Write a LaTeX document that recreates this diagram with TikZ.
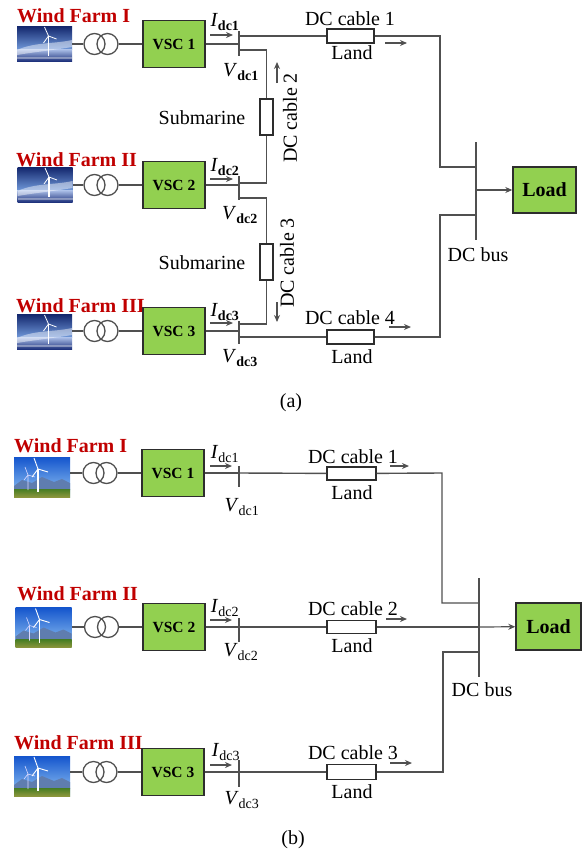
\documentclass[tikz,border=0pt]{standalone}
\usepackage{fontspec}
\setmainfont{Liberation Serif}
\usetikzlibrary{arrows.meta}
\definecolor{vscgreen}{RGB}{146,208,80}
\definecolor{farmred}{RGB}{192,0,0}
\definecolor{wirecol}{RGB}{80,80,80}
\definecolor{boxdark}{RGB}{45,45,45}
\definecolor{sa1}{RGB}{20,40,110}
\definecolor{sa2}{RGB}{110,150,215}
\definecolor{sa3}{RGB}{175,195,235}
\definecolor{sa4}{RGB}{25,45,120}
\definecolor{lb1}{RGB}{20,85,205}
\definecolor{lb2}{RGB}{150,200,245}
\definecolor{lb3}{RGB}{95,125,175}
\definecolor{gr1}{RGB}{70,125,35}
\definecolor{gr2}{RGB}{140,150,60}
\newcommand\lblfont{\fontsize{20}{24}\selectfont}
\newcommand\vscfont{\fontsize{15.5}{18}\selectfont}
\newcommand\subA[2]{\textit{#1}\textsubscript{\bfseries #2}}
\newcommand\subB[2]{\textit{#1}\textsubscript{#2}}
\tikzset{
  lbl/.style={font=\lblfont, inner sep=0},
  farm/.style={font=\lblfont\bfseries, text=farmred, anchor=base west, inner sep=0},
  vsc/.style={draw=boxdark, fill=vscgreen, line width=1.4, minimum width=62, minimum height=47, inner sep=0, font=\vscfont\bfseries},
  loadbox/.style={draw=boxdark, fill=vscgreen, line width=1.4, minimum width=63, minimum height=46, inner sep=0, font=\lblfont\bfseries},
  xf/.style={circle, draw=wirecol, line width=1.3, minimum size=21, inner sep=0},
  res/.style={draw=boxdark, fill=white, line width=1.3, inner sep=0},
  resh/.style={res, minimum width=47, minimum height=14},
  resv/.style={res, minimum width=13, minimum height=36},
  wireln/.style={draw=wirecol, line width=1.4},
  busmk/.style={draw=wirecol, line width=1.6},
  flow/.style={draw=wirecol, line width=1.2, -{Stealth[length=7,width=6]}},
  imgn/.style={inner sep=0, minimum width=55, minimum height=35},
  imgm/.style={inner sep=0, minimum width=56, minimum height=40},
  seafarm/.pic={
    \shade[top color=sa1, bottom color=sa2] (-27.5,-17.5) rectangle (27.5,5);
    \shade[top color=sa3, bottom color=sa4] (-27.5,5) rectangle (27.5,17.5);
    \fill[white, opacity=0.45] (-27.5,6) .. controls (-10,-2) and (10,0) .. (27.5,-4) -- (27.5,3) .. controls (10,6) and (-10,8) .. (-27.5,11) -- cycle;
    \fill[white, opacity=0.35] (-27.5,13) rectangle (27.5,15);
    \draw[white, line width=1.1] (4,-8) -- (4,12);
    \draw[white, line width=0.8] (4,-8) -- (0,-17) (4,-8) -- (12,-5) (4,-8) -- (-1,-1);
  },
  landfarm/.pic={
    \shade[top color=lb1, bottom color=lb2] (-28,-20) rectangle (28,20);
    \fill[lb3] (-28,9) -- (-20,3) -- (-10,6) -- (0,0) -- (12,5) -- (20,2) -- (28,6) -- (28,13) -- (-28,13) -- cycle;
    \shade[top color=gr1, bottom color=gr2] (-28,12) rectangle (28,20);
    \draw[white!85!blue, line width=0.6] (-14,-2) -- (-14,13) (-14,-2) -- (-17,-10) (-14,-2) -- (-7,0) (-14,-2) -- (-18,3);
    \draw[white, line width=1.3] (-4,-8) -- (-4,15);
    \draw[white, line width=0.9] (-4,-8) -- (-8,-19) (-4,-8) -- (6,-5) (-4,-8) -- (-10,0);
  }
}
\begin{document}
\begin{tikzpicture}[x=1pt,y=-1pt]
\useasboundingbox (0,0) rectangle (584,854);
% ================= (a) =================
% row 1
\pic at (44.5,44) {seafarm};
\node[imgn] (ia1) at (44.5,44) {};
\node[farm] (wa1) at (17,22) {Wind Farm I};
\node[xf] (ta1a) at (94.5,44) {};
\node[xf] (ta1b) at (107.5,44) {};
\node[vsc] (va1) at (174,44) {VSC 1};
\coordinate (ka1t) at (239,31); \coordinate (ka1b) at (239,56);
\draw[busmk] (ka1t) -- (ka1b);
\draw[wireln] (ia1) -- (ta1a);
\draw[wireln] (ta1b) -- (va1);
\draw[wireln] (va1) -- (va1 -| ka1t);
% row 2
\pic at (45,185) {seafarm};
\node[imgn] (ia2) at (45,185) {};
\node[farm] (wa2) at (16,166) {Wind Farm II};
\node[xf] (ta2a) at (94.5,185) {};
\node[xf] (ta2b) at (107.5,185) {};
\node[vsc] (va2) at (174,185) {VSC 2};
\coordinate (ka2t) at (239,176); \coordinate (ka2b) at (239,200);
\draw[busmk] (ka2t) -- (ka2b);
\draw[wireln] (ia2) -- (ta2a);
\draw[wireln] (ta2b) -- (va2);
\draw[wireln] (va2) -- (va2 -| ka2t);
% row 3
\pic at (44.5,332) {seafarm};
\node[imgn] (ia3) at (44.5,332) {};
\node[farm] (wa3) at (16,312) {Wind Farm III};
\node[xf] (ta3a) at (94.5,331) {};
\node[xf] (ta3b) at (107.5,331) {};
\node[vsc] (va3) at (174,331) {VSC 3};
\coordinate (ka3t) at (239,321); \coordinate (ka3b) at (239,344);
\draw[busmk] (ka3t) -- (ka3b);
\draw[wireln] (ia3.east |- ta3a) -- (ta3a);
\draw[wireln] (ta3b) -- (va3);
\draw[wireln] (va3) -- (va3 -| ka3t);
% DC bus and load
\coordinate (busat) at (476,142); \coordinate (busab) at (476,240);
\draw[busmk] (busat) -- (busab);
\node[loadbox] (lda) at (544.5,190) {Load};
\draw[flow] (busat |- lda) -- (lda);
% cable 1
\node[resh] (ra1) at (350.5,36) {};
\coordinate (ca1) at (440,36); \coordinate (ca1b) at (440,167);
\draw[wireln] (ka1t |- ra1) -- (ra1) -- (ca1) -- (ca1b) -- (ca1b -| busat);
% cable 2
\node[resv] (ra2) at (266.5,117) {};
\coordinate (ja1) at (239,50); \coordinate (ja2) at (239,183);
\draw[wireln] (ja1) -- (ja1 -| ra2) -- (ra2) -- (ra2 |- ja2) -- (ja2);
% cable 3
\node[resv] (ra3) at (266.5,262) {};
\coordinate (ja3) at (239,198); \coordinate (ja4) at (239,324);
\draw[wireln] (ja3) -- (ja3 -| ra3) -- (ra3) -- (ra3 |- ja4) -- (ja4);
% cable 4
\node[resh] (ra4) at (350.5,337) {};
\coordinate (ja5) at (239,337); \coordinate (ca4) at (440,337); \coordinate (ca4b) at (440,215);
\draw[wireln] (ja5) -- (ra4) -- (ca4) -- (ca4b) -- (ca4b -| busat);
% flow arrows (a)
\coordinate (fa1s) at (210,35); \coordinate (fa1e) at (233,35); \draw[flow] (fa1s) -- (fa1e);
\coordinate (fa2s) at (210,179); \coordinate (fa2e) at (233,179); \draw[flow] (fa2s) -- (fa2e);
\coordinate (fa3s) at (210,323); \coordinate (fa3e) at (233,323); \draw[flow] (fa3s) -- (fa3e);
\coordinate (fc1s) at (385,43); \coordinate (fc1e) at (407,43); \draw[flow] (fc1s) -- (fc1e);
\coordinate (fc2s) at (277,83); \coordinate (fc2e) at (277,62); \draw[flow] (fc2s) -- (fc2e);
\coordinate (fc3s) at (277,302); \coordinate (fc3e) at (277,322); \draw[flow] (fc3s) -- (fc3e);
\coordinate (fc4s) at (389,327); \coordinate (fc4e) at (411,327); \draw[flow] (fc4s) -- (fc4e);
% labels (a)
\node[lbl] (la1) at (225,22) {\subA{I}{dc1}};
\node[lbl] (lv1) at (241,72) {\subA{V}{dc1}};
\node[lbl] (la2) at (225,167) {\subA{I}{dc2}};
\node[lbl] (lv2) at (240,215) {\subA{V}{dc2}};
\node[lbl] (la3) at (225,312) {\subA{I}{dc3}};
\node[lbl] (lv3) at (240,358) {\subA{V}{dc3}};
\node[lbl] (lc1) at (350,19) {DC cable 1};
\node[lbl] (ll1) at (352,53) {Land};
\node[lbl, rotate=90] (lc2) at (290,118) {DC cable 2};
\node[lbl] (ls1) at (202,118) {Submarine};
\node[lbl, rotate=90] (lc3) at (287,263) {DC cable 3};
\node[lbl] (ls2) at (202,263) {Submarine};
\node[lbl] (lc4) at (350,318) {DC cable 4};
\node[lbl] (ll4) at (352,357) {Land};
\node[lbl] (lbusa) at (478,255) {DC bus};
\node[lbl] (capa) at (291,403) {(a)};
% ================= (b) =================
% row 1
\pic at (42,477) {landfarm};
\node[imgm] (ib1) at (42,477) {};
\node[farm] (wb1) at (14,452) {Wind Farm I};
\node[xf] (tb1a) at (93.5,473) {};
\node[xf] (tb1b) at (106.5,473) {};
\node[vsc] (vb1) at (173,473) {VSC 1};
\coordinate (kb1t) at (239,466); \coordinate (kb1b) at (239,487);
\draw[busmk] (kb1t) -- (kb1b);
\draw[wireln] (ib1.east |- tb1a) -- (tb1a);
\draw[wireln] (tb1b) -- (vb1);
\draw[wireln] (vb1) -- (vb1 -| kb1t);
% row 2
\pic at (43.5,627.5) {landfarm};
\node[imgm] (ib2) at (43.5,627.5) {};
\node[farm] (wb2) at (17,600) {Wind Farm II};
\node[xf] (tb2a) at (95,627) {};
\node[xf] (tb2b) at (108,627) {};
\node[vsc] (vb2) at (174,627) {VSC 2};
\coordinate (kb2t) at (239,618); \coordinate (kb2b) at (239,642);
\draw[busmk] (kb2t) -- (kb2b);
\draw[wireln] (ib2.east |- tb2a) -- (tb2a);
\draw[wireln] (tb2b) -- (vb2);
\draw[wireln] (vb2) -- (vb2 -| kb2t);
% row 3
\pic at (42,776) {landfarm};
\node[imgm] (ib3) at (42,776) {};
\node[farm] (wb3) at (14,749) {Wind Farm III};
\node[xf] (tb3a) at (93.5,772) {};
\node[xf] (tb3b) at (106.5,772) {};
\node[vsc] (vb3) at (173,772) {VSC 3};
\coordinate (kb3t) at (239,760); \coordinate (kb3b) at (239,787);
\draw[busmk] (kb3t) -- (kb3b);
\draw[wireln] (ib3.east |- tb3a) -- (tb3a);
\draw[wireln] (tb3b) -- (vb3);
\draw[wireln] (vb3) -- (vb3 -| kb3t);
% bus and load
\coordinate (busbt) at (479,578); \coordinate (busbb) at (479,677);
\draw[busmk] (busbt) -- (busbb);
\node[loadbox, minimum width=65, minimum height=47] (ldb) at (548.5,626.5) {Load};
% cables (b)
\node[resh, minimum width=49, minimum height=13] (rb1) at (351.5,473.5) {};
\coordinate (cb1) at (442,473); \coordinate (cb1b) at (442,603);
\draw[wireln] (kb1t |- cb1) -- (rb1) -- (cb1) -- (cb1b) -- (cb1b -| busbt);
\node[resh, minimum width=49, minimum height=13] (rb2) at (351.5,627) {};
\draw[wireln] (kb2t |- rb2) -- (rb2) -- (rb2 -| busbt);
\draw[flow] (rb2 -| busbt) -- (ldb);
\node[resh, minimum width=49, minimum height=15] (rb3) at (351.5,772) {};
\coordinate (cb3) at (443,772); \coordinate (cb3b) at (443,652);
\draw[wireln] (kb3t |- rb3) -- (rb3) -- (cb3) -- (cb3b) -- (cb3b -| busbt);
% flow arrows (b)
\coordinate (fb1s) at (210,466); \coordinate (fb1e) at (232,466); \draw[flow] (fb1s) -- (fb1e);
\coordinate (fb2s) at (210,620); \coordinate (fb2e) at (232,620); \draw[flow] (fb2s) -- (fb2e);
\coordinate (fb3s) at (210,765); \coordinate (fb3e) at (232,765); \draw[flow] (fb3s) -- (fb3e);
\coordinate (gb1s) at (390,466); \coordinate (gb1e) at (409,466); \draw[flow] (gb1s) -- (gb1e);
\coordinate (gb2s) at (386,619); \coordinate (gb2e) at (407,619); \draw[flow] (gb2s) -- (gb2e);
\coordinate (gb3s) at (390,763); \coordinate (gb3e) at (412,763); \draw[flow] (gb3s) -- (gb3e);
% labels (b)
\node[lbl] (lb1i) at (225,454) {\subB{I}{dc1}};
\node[lbl] (lb1v) at (242,507) {\subB{V}{dc1}};
\node[lbl] (lb2i) at (225,608) {\subB{I}{dc2}};
\node[lbl] (lb2v) at (241,652) {\subB{V}{dc2}};
\node[lbl] (lb3i) at (226,752) {\subB{I}{dc3}};
\node[lbl] (lb3v) at (242,800) {\subB{V}{dc3}};
\node[lbl] (lbc1) at (353,457) {DC cable 1};
\node[lbl] (lbl1) at (352,493) {Land};
\node[lbl] (lbc2) at (353,609) {DC cable 2};
\node[lbl] (lbl2) at (352,646) {Land};
\node[lbl] (lbc3) at (353,753) {DC cable 3};
\node[lbl] (lbl3) at (352,792) {Land};
\node[lbl] (lbusb) at (482,690) {DC bus};
\node[lbl] (capb) at (293,840) {(b)};
\end{tikzpicture}
\end{document}
